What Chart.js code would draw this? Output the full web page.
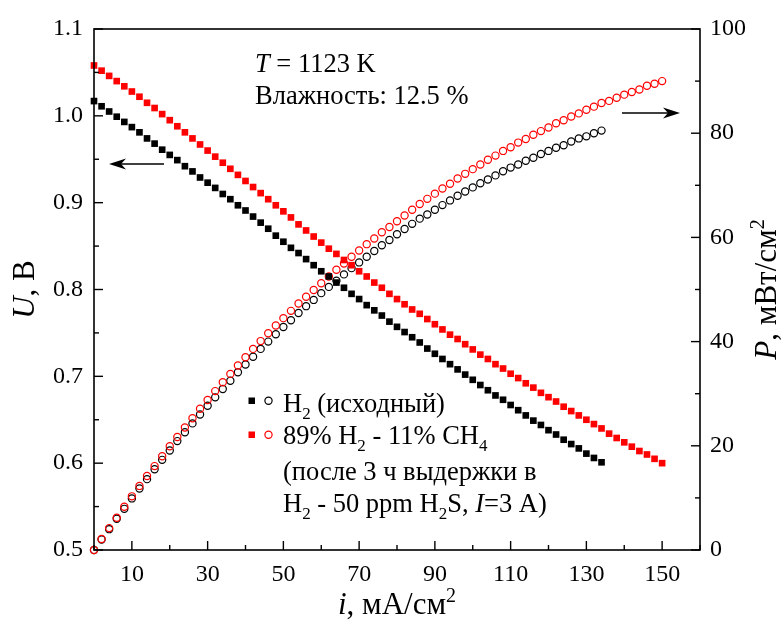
<!DOCTYPE html>
<html lang="ru">
<head>
    <meta charset="UTF-8">
    <title>U, P - i</title>
    <script src="https://cdn.jsdelivr.net/npm/chart.js@4.4.0/dist/chart.umd.min.js"></script>
    <style>
        html, body { margin: 0; padding: 0; background: #fff; }
        #wrap { width: 784px; height: 631px; position: relative; }
    </style>
</head>
<body>
<div id="wrap"><canvas id="chart" width="784" height="631"></canvas></div>
<script>
    // плотность тока, мА/см2 (шаг 2)
    const current = [0, 2, 4, 6, 8, 10, 12, 14, 16, 18, 20, 22, 24, 26, 28, 30, 32, 34, 36, 38,
        40, 42, 44, 46, 48, 50, 52, 54, 56, 58, 60, 62, 64, 66, 68, 70, 72, 74, 76, 78,
        80, 82, 84, 86, 88, 90, 92, 94, 96, 98, 100, 102, 104, 106, 108, 110, 112, 114, 116, 118,
        120, 122, 124, 126, 128, 130, 132, 134, 136, 138, 140, 142, 144, 146, 148, 150];

    // H2 (исходный): напряжение, В
    const uH2 = [1.017, 1.011, 1.005, 0.999, 0.993, 0.987, 0.981, 0.974, 0.968, 0.961,
        0.955, 0.949, 0.942, 0.936, 0.929, 0.923, 0.917, 0.910, 0.904, 0.897,
        0.891, 0.884, 0.877, 0.870, 0.862, 0.855, 0.848, 0.842, 0.835, 0.828,
        0.821, 0.815, 0.808, 0.802, 0.795, 0.789, 0.782, 0.776, 0.770, 0.763,
        0.757, 0.751, 0.745, 0.739, 0.732, 0.726, 0.720, 0.714, 0.708, 0.702,
        0.696, 0.690, 0.684, 0.678, 0.673, 0.667, 0.661, 0.655, 0.649, 0.644,
        0.638, 0.633, 0.627, 0.622, 0.617, 0.611, 0.606, 0.601];

    // H2 (исходный): мощность, мВт/см2
    const pH2 = [0, 2.0, 4.0, 6.0, 7.9, 9.9, 11.8, 13.6, 15.5, 17.3,
        19.1, 20.9, 22.6, 24.3, 26.0, 27.7, 29.3, 30.9, 32.5, 34.1,
        35.6, 37.1, 38.6, 40.0, 41.4, 42.8, 44.1, 45.5, 46.8, 48.0,
        49.3, 50.5, 51.7, 52.9, 54.1, 55.2, 56.3, 57.4, 58.5, 59.5,
        60.6, 61.6, 62.6, 63.6, 64.4, 65.3, 66.2, 67.1, 68.0, 68.8,
        69.6, 70.4, 71.1, 71.9, 72.7, 73.4, 74.0, 74.7, 75.3, 76.0,
        76.6, 77.2, 77.7, 78.4, 79.0, 79.4, 80.0, 80.5];

    // 89% H2 - 11% CH4: напряжение, В
    const uMix = [1.058, 1.052, 1.046, 1.040, 1.034, 1.028, 1.022, 1.015, 1.009, 1.002,
        0.995, 0.988, 0.981, 0.974, 0.967, 0.960, 0.953, 0.946, 0.939, 0.932,
        0.925, 0.918, 0.911, 0.904, 0.897, 0.890, 0.883, 0.875, 0.868, 0.861,
        0.854, 0.847, 0.841, 0.834, 0.828, 0.821, 0.815, 0.808, 0.802, 0.795,
        0.789, 0.783, 0.777, 0.772, 0.766, 0.760, 0.754, 0.748, 0.743, 0.737,
        0.731, 0.725, 0.720, 0.714, 0.709, 0.703, 0.698, 0.692, 0.687, 0.681,
        0.676, 0.671, 0.665, 0.660, 0.655, 0.650, 0.645, 0.640, 0.634, 0.629,
        0.624, 0.619, 0.614, 0.610, 0.605, 0.600];

    // 89% H2 - 11% CH4: мощность, мВт/см2
    const pMix = [0, 2.1, 4.2, 6.2, 8.3, 10.3, 12.3, 14.2, 16.1, 18.0,
        19.9, 21.7, 23.5, 25.3, 27.1, 28.8, 30.5, 32.2, 33.8, 35.4,
        37.0, 38.6, 40.1, 41.6, 43.1, 44.5, 45.9, 47.3, 48.6, 49.9,
        51.2, 52.5, 53.8, 55.0, 56.3, 57.5, 58.7, 59.8, 61.0, 62.0,
        63.1, 64.2, 65.3, 66.4, 67.4, 68.4, 69.4, 70.3, 71.3, 72.2,
        73.1, 74.0, 74.9, 75.7, 76.6, 77.3, 78.2, 78.9, 79.7, 80.4,
        81.1, 81.9, 82.5, 83.2, 83.8, 84.5, 85.1, 85.8, 86.2, 86.8,
        87.4, 87.9, 88.4, 89.1, 89.5, 90.0];

    const FONT = 'Liberation Serif';

    function pts(ys) {
        return ys.map((y, k) => ({ x: current[k], y: y }));
    }

    // текст с курсивом / индексами
    function richWidth(ctx, parts, size) {
        let w = 0;
        parts.forEach(p => {
            const s = (p.sub || p.sup) ? Math.round(size * 0.65) : size;
            ctx.font = (p.it ? 'italic ' : '') + s + 'px "' + FONT + '"';
            w += ctx.measureText(p.t).width;
        });
        return w;
    }
    function drawRich(ctx, parts, x, y, size, align) {
        let cx = x;
        if (align === 'center') cx = x - richWidth(ctx, parts, size) / 2;
        ctx.textAlign = 'left';
        ctx.textBaseline = 'alphabetic';
        ctx.fillStyle = '#000';
        parts.forEach(p => {
            const s = (p.sub || p.sup) ? Math.round(size * 0.65) : size;
            ctx.font = (p.it ? 'italic ' : '') + s + 'px "' + FONT + '"';
            let dy = 0;
            if (p.sub) dy = size * 0.25;
            if (p.sup) dy = -size * 0.38;
            ctx.fillText(p.t, cx, y + dy);
            cx += ctx.measureText(p.t).width;
        });
    }

    function arrow(ctx, xFrom, y, xTo) {
        const dir = xTo > xFrom ? 1 : -1;
        ctx.strokeStyle = '#000';
        ctx.fillStyle = '#000';
        ctx.lineWidth = 1.3;
        ctx.beginPath();
        ctx.moveTo(xFrom, y);
        ctx.lineTo(xTo - dir * 10, y);
        ctx.stroke();
        ctx.beginPath();
        ctx.moveTo(xTo, y);
        ctx.lineTo(xTo - dir * 17, y - 5.5);
        ctx.lineTo(xTo - dir * 12, y);
        ctx.lineTo(xTo - dir * 17, y + 5.5);
        ctx.closePath();
        ctx.fill();
    }

    const frame = {
        id: 'frame',
        afterDatasetsDraw(chart) {
            const ctx = chart.ctx;
            const a = chart.chartArea;
            ctx.save();
            ctx.strokeStyle = '#000';
            ctx.lineWidth = 1.6;
            ctx.strokeRect(a.left, a.top, a.right - a.left, a.bottom - a.top);

            // засечки внутрь
            ctx.lineWidth = 1.4;
            const sx = chart.scales.x, sy = chart.scales.y, sp = chart.scales.y2;
            sx.ticks.forEach(t => {
                const px = sx.getPixelForValue(t.value);
                const len = (t.value % 20 === 10) ? 9 : 5;
                ctx.beginPath(); ctx.moveTo(px, a.bottom); ctx.lineTo(px, a.bottom - len); ctx.stroke();
            });
            sy.ticks.forEach(t => {
                const py = sy.getPixelForValue(t.value);
                const len = (Math.round(t.value * 100) % 10 === 0) ? 9 : 5;
                ctx.beginPath(); ctx.moveTo(a.left, py); ctx.lineTo(a.left + len, py); ctx.stroke();
            });
            sp.ticks.forEach(t => {
                const py = sp.getPixelForValue(t.value);
                const len = (t.value % 20 === 0) ? 9 : 5;
                ctx.beginPath(); ctx.moveTo(a.right, py); ctx.lineTo(a.right - len, py); ctx.stroke();
            });

            // подписи осей
            drawRich(ctx, [{ t: 'i', it: true }, { t: ', мА/см' }, { t: '2', sup: true }],
                (a.left + a.right) / 2, 614, 31, 'center');
            ctx.save();
            ctx.translate(34, (a.top + a.bottom) / 2);
            ctx.rotate(-Math.PI / 2);
            drawRich(ctx, [{ t: 'U', it: true }, { t: ', В' }], 0, 0, 31, 'center');
            ctx.restore();
            ctx.save();
            ctx.translate(776, (a.top + a.bottom) / 2);
            ctx.rotate(-Math.PI / 2);
            drawRich(ctx, [{ t: 'P', it: true }, { t: ', мВт/см' }, { t: '2', sup: true }], 0, 0, 31, 'center');
            ctx.restore();

            // условия
            drawRich(ctx, [{ t: 'T', it: true }, { t: ' = 1123 K' }], 255, 72, 26.5);
            drawRich(ctx, [{ t: 'Влажность: 12.5 %' }], 255, 104, 26.5);

            // стрелки
            arrow(ctx, 164, 164, 109);
            arrow(ctx, 622, 113, 680);

            // легенда
            ctx.fillStyle = '#000';
            ctx.fillRect(248.5, 397.5, 6.5, 6.5);
            ctx.lineWidth = 1.2;
            ctx.strokeStyle = '#000';
            ctx.beginPath(); ctx.arc(268.5, 400.7, 3.6, 0, Math.PI * 2); ctx.stroke();
            ctx.fillStyle = '#ff0000';
            ctx.fillRect(248.5, 431.5, 6.5, 6.5);
            ctx.strokeStyle = '#ff0000';
            ctx.beginPath(); ctx.arc(268.5, 434.7, 3.6, 0, Math.PI * 2); ctx.stroke();

            drawRich(ctx, [{ t: 'H' }, { t: '2', sub: true }, { t: ' (исходный)' }], 283, 412, 26.5);
            drawRich(ctx, [{ t: '89% H' }, { t: '2', sub: true }, { t: ' - 11% CH' }, { t: '4', sub: true }], 283, 444, 26.5);
            drawRich(ctx, [{ t: '(после 3 ч выдержки в' }], 283, 480, 26.5);
            drawRich(ctx, [{ t: 'H' }, { t: '2', sub: true }, { t: ' - 50 ppm H' }, { t: '2', sub: true },
                { t: 'S, ' }, { t: 'I', it: true }, { t: '=3 A)' }], 283, 512, 26.5);
            ctx.restore();
        }
    };

    const tickFont = { family: FONT, size: 24 };

    new Chart(document.getElementById('chart'), {
        type: 'scatter',
        data: {
            datasets: [
                {
                    label: 'U H2',
                    data: pts(uH2),
                    yAxisID: 'y',
                    pointStyle: 'rect',
                    pointRadius: 4.7,
                    backgroundColor: '#000',
                    borderColor: '#000',
                    borderWidth: 0,
                    clip: false,
                    order: 1
                },
                {
                    label: 'U H2-CH4',
                    data: pts(uMix),
                    yAxisID: 'y',
                    pointStyle: 'rect',
                    pointRadius: 4.7,
                    backgroundColor: '#ff0000',
                    borderColor: '#ff0000',
                    borderWidth: 0,
                    clip: false,
                    order: 2
                },
                {
                    label: 'P H2-CH4',
                    data: pts(pMix),
                    yAxisID: 'y2',
                    pointStyle: 'circle',
                    pointRadius: 3.6,
                    backgroundColor: 'rgba(0,0,0,0)',
                    borderColor: '#ff0000',
                    borderWidth: 1.2,
                    clip: false,
                    order: 3
                },
                {
                    label: 'P H2',
                    data: pts(pH2),
                    yAxisID: 'y2',
                    pointStyle: 'circle',
                    pointRadius: 3.6,
                    backgroundColor: 'rgba(0,0,0,0)',
                    borderColor: '#000',
                    borderWidth: 1.2,
                    clip: false,
                    order: 4
                }
            ]
        },
        options: {
            responsive: false,
            animation: false,
            layout: { padding: { top: 29, left: 0, right: 0, bottom: 0 } },
            plugins: { legend: { display: false }, tooltip: { enabled: false } },
            scales: {
                x: {
                    type: 'linear',
                    min: 0, max: 160,
                    grid: { display: false, drawTicks: false },
                    border: { display: false },
                    afterFit: s => { s.height = 81; },
                    ticks: {
                        stepSize: 10, autoSkip: false, maxRotation: 0,
                        padding: 10, color: '#000', font: tickFont,
                        callback: v => (v % 20 === 10 ? String(v) : '')
                    }
                },
                y: {
                    position: 'left',
                    min: 0.5, max: 1.1,
                    grid: { display: false, drawTicks: false },
                    border: { display: false },
                    afterFit: s => { s.width = 94; },
                    ticks: {
                        stepSize: 0.05, autoSkip: false,
                        padding: 11, color: '#000', font: tickFont,
                        callback: v => {
                            const k = Math.round(v * 100);
                            return k % 10 === 0 ? (k / 100).toFixed(1) : '';
                        }
                    }
                },
                y2: {
                    position: 'right',
                    min: 0, max: 100,
                    grid: { display: false, drawTicks: false },
                    border: { display: false },
                    afterFit: s => { s.width = 84; },
                    ticks: {
                        stepSize: 10, autoSkip: false,
                        padding: 10, color: '#000', font: tickFont,
                        callback: v => (v % 20 === 0 ? String(v) : '')
                    }
                }
            }
        },
        plugins: [frame]
    });
</script>
</body>
</html>
